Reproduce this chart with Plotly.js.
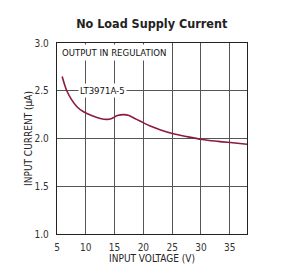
<!DOCTYPE html>
<html><head><meta charset="utf-8">
<script src="https://cdn.plot.ly/plotly-3.0.1.min.js"></script>
<style>html,body{margin:0;padding:0;background:#fff}#c{width:289px;height:280px}</style>
</head><body><div id="c"></div>
<script>
var inputVoltage = [5.9, 6.7, 7.5, 8.5, 9.6, 11, 12.5, 13.7, 14.5, 15.5, 16.6, 17.5, 18.5, 19.5, 21.2, 23, 25.2, 27.5, 30.2, 33, 35.5, 38];
var inputCurrent = [2.65, 2.5, 2.41, 2.33, 2.28, 2.24, 2.21, 2.20, 2.21, 2.24, 2.25, 2.24, 2.21, 2.18, 2.13, 2.09, 2.05, 2.02, 1.99, 1.97, 1.955, 1.94];
var xTicks = [5, 10, 15, 20, 25, 30, 35];
var yTicks = [1.0, 1.5, 2.0, 2.5, 3.0];
var yTickText = ['1.0', '1.5', '2.0', '2.5', '3.0'];
var fontFam = '"DejaVu Sans Condensed", "Liberation Sans Narrow", "Liberation Sans", Arial, sans-serif';
var data = [{x: inputVoltage, y: inputCurrent, type: 'scatter', mode: 'lines', line: {color: '#8c1c3c', width: 1.6, shape: 'spline'}, hoverinfo: 'skip'}];
var layout = {
  width: 289, height: 280,
  margin: {l: 57, r: 42, t: 43, b: 46},
  paper_bgcolor: '#fff', plot_bgcolor: '#fff',
  showlegend: false,
  title: {text: '<b>No Load Supply Current</b>', x: 0.525, xanchor: 'center', y: 0.915, yanchor: 'middle', font: {family: fontFam, size: 12.5, color: '#222'}},
  xaxis: {range: [5, 38], tickvals: xTicks, ticks: 'outside', ticklen: 4, tickcolor: '#fff', showgrid: true, gridcolor: '#555', gridwidth: 1, zeroline: false,
    showline: true, linecolor: '#222', linewidth: 1.2, mirror: true,
    tickfont: {family: fontFam, size: 10, color: '#333'},
    title: {text: 'INPUT VOLTAGE (V)', font: {family: fontFam, size: 10, color: '#222'}, standoff: 1}},
  yaxis: {range: [1.0, 3.0], tickvals: yTicks, ticktext: yTickText, ticks: 'outside', ticklen: 5, tickcolor: '#fff', showgrid: true, gridcolor: '#555', gridwidth: 1, zeroline: false,
    showline: true, linecolor: '#222', linewidth: 1.2, mirror: true,
    tickfont: {family: fontFam, size: 10, color: '#333'},
    title: {text: 'INPUT CURRENT (µA)', font: {family: fontFam, size: 10, color: '#222'}, standoff: 0}},
  annotations: [
    {xref: 'paper', yref: 'paper', x: 0.01, y: 0.997, xanchor: 'left', yanchor: 'top', text: 'OUTPUT IN REGULATION', showarrow: false,
      bgcolor: '#fff', borderpad: 2, font: {family: fontFam, size: 9.5, color: '#111'}},
    {xref: 'x', yref: 'y', x: 12.9, y: 2.5, xanchor: 'center', yanchor: 'middle', text: 'LT3971A-5', showarrow: false,
      bgcolor: '#fff', borderpad: 1, font: {family: fontFam, size: 9.5, color: '#111'}}
  ]
};
Plotly.newPlot('c', data, layout, {displayModeBar: false, staticPlot: true});
</script></body></html>
